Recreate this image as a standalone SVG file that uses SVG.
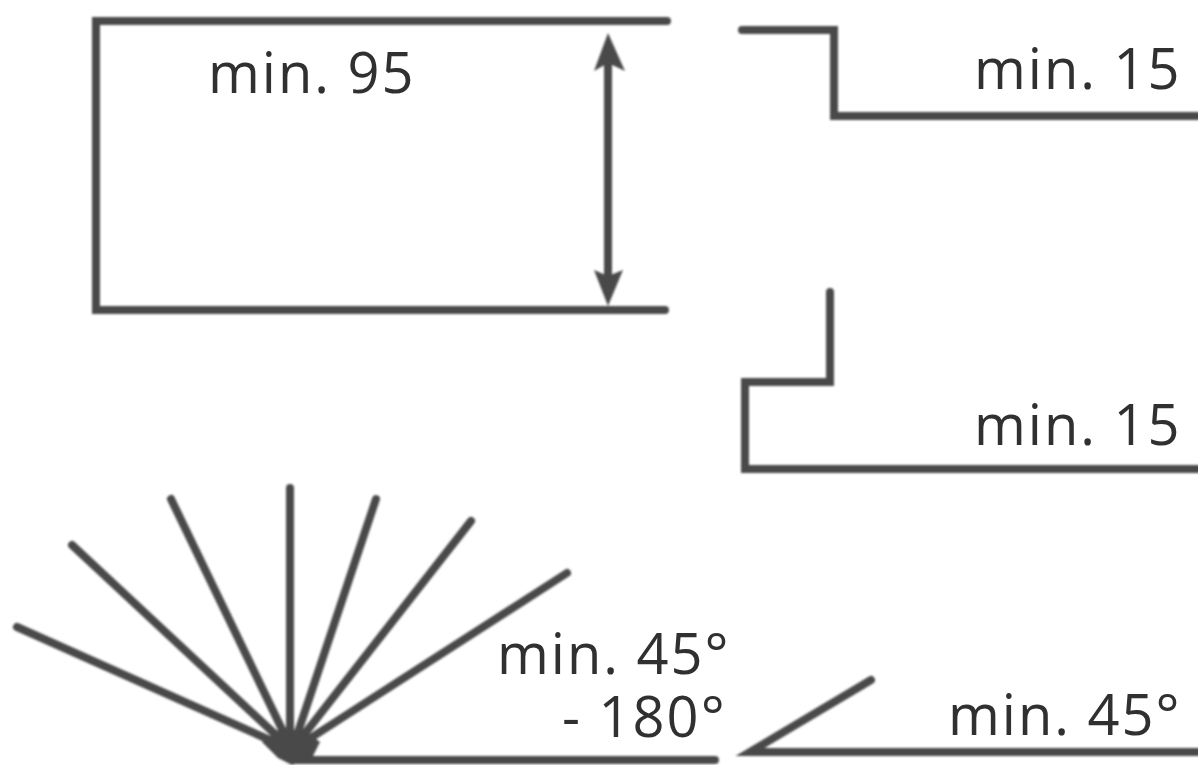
<svg xmlns="http://www.w3.org/2000/svg" width="1198" height="765" viewBox="0 0 1198 765">
<defs><filter id="soft" x="-5%" y="-5%" width="110%" height="110%"><feGaussianBlur stdDeviation="0.9"/></filter></defs>
<style>
.l{fill:none;stroke:#4a4a4a;stroke-width:8;stroke-linecap:round;stroke-linejoin:miter}
.h{fill:#4a4a4a;stroke:none}
.t{font-family:"Open Sans","Noto Sans","Liberation Sans",sans-serif;font-size:56px;fill:#303030;letter-spacing:2px}
</style>
<rect width="1198" height="765" fill="#fff"/>
<g id="connectors" filter="url(#soft)">
<path class="l" d="M667 21H96V310H665"/>
<path class="l" d="M608 50V290"/>
<path class="h" d="M608 33L625 71L608 63L594 71Z"/>
<path class="h" d="M608 306L594 270L608 276L623 270Z"/>
<path class="l" d="M742 30H834V116H1198"/>
<path class="l" d="M830 292V382H745V469H1198"/>
<path class="l" d="M17 627L292 750M72 545L292 750M171 499L292 750M290 488V750M376 499L292 750M471 521L292 750M567 573L292 750"/>
<path class="l" d="M292 760H715"/>
<path class="h" d="M262 742L278 730H304L320 742L312 758L292 765L278 758Z"/>
<path class="l" d="M871 680L750 752H1198"/>
</g>
<g id="label-95"><text class="t" x="208" y="93">min. 95</text></g>
<g id="label-15a"><text class="t" x="974" y="89">min. 15</text></g>
<g id="label-15b"><text class="t" x="974" y="445">min. 15</text></g>
<g id="label-45-180"><text class="t" x="497" y="674">min. 45°</text><text class="t" x="562" y="737">- 180°</text></g>
<g id="label-45"><text class="t" x="948" y="735">min. 45°</text></g>
</svg>
